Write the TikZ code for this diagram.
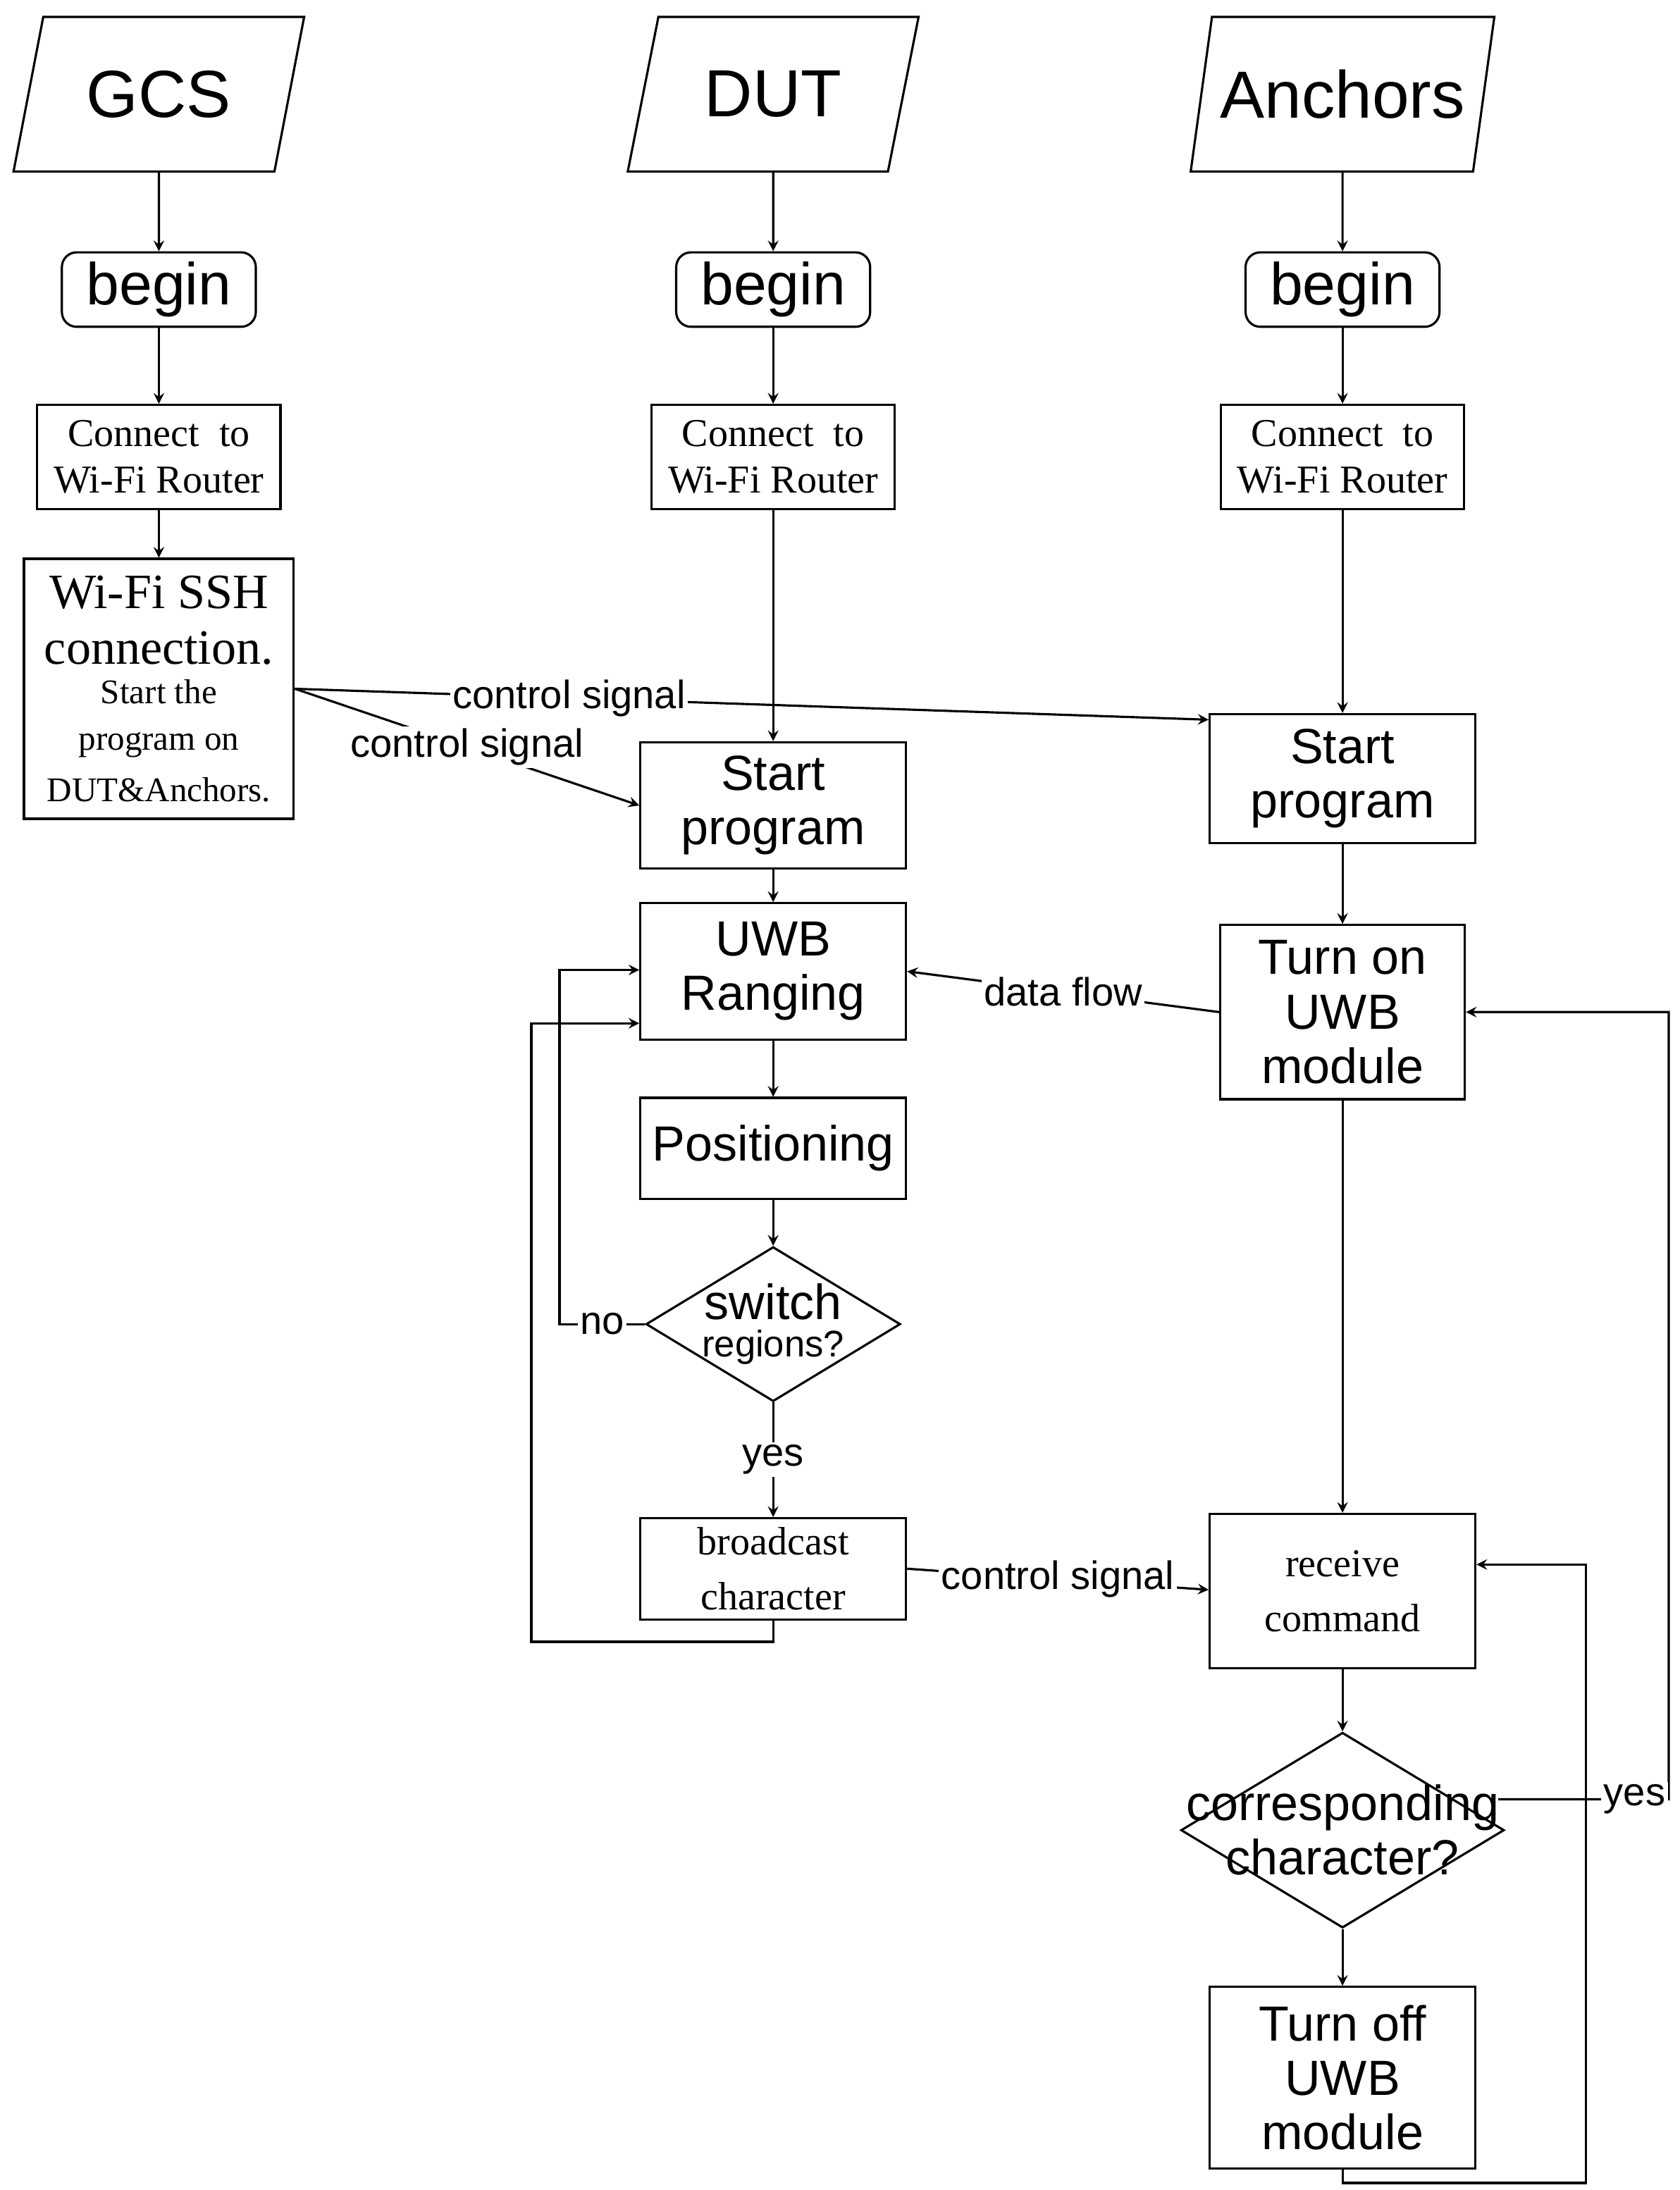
\documentclass[tikz,border=0pt]{standalone}
\usepackage{fontspec}
\setmainfont{Liberation Serif}
\newfontfamily\sansf{Liberation Sans}
\usetikzlibrary{shapes,arrows,positioning,calc}

\begin{document}
\begin{tikzpicture}[x=0.02cm, y=-0.02cm, >=stealth, line width=0.9pt,
  io/.style = {draw, trapezium, trapezium left angle=72, trapezium right angle=108, trapezium stretches=true, minimum width=4.14cm, minimum height=2.2cm, font=\sansf\fontsize{27}{30}\selectfont},
  start/.style = {draw, rounded corners=6pt, minimum width=2.76cm, minimum height=1.06cm, font=\sansf\fontsize{24}{26}\selectfont},
  wifi/.style = {draw, minimum width=3.46cm, minimum height=1.48cm, inner sep=1pt, align=center, font=\fontsize{16}{19}\selectfont},
  proc/.style = {draw, minimum width=3.78cm, align=center, inner sep=1pt, font=\sansf\fontsize{20}{22}\selectfont},
  serifproc/.style = {draw, minimum width=3.78cm, align=center, inner sep=1pt, font=\fontsize{16}{22}\selectfont},
  decide/.style = {draw, diamond, inner sep=0pt},
  lbl/.style = {fill=white, inner sep=1pt, font=\sansf\fontsize{16}{18}\selectfont}]
\useasboundingbox (0,0) rectangle (1195,1558);

% GCS column
\node[io] (gcs) at (113,67) {GCS};
\node[start] (gcsbegin) at (113,206) {begin};
\node[wifi] (gcswifi) at (113,325) {Connect\ \ to\\Wi-Fi Router};
\node[draw, minimum width=3.84cm, minimum height=3.7cm, align=center, inner sep=1pt] (ssh) at (113,490)
  {\fontsize{20}{24}\selectfont Wi-Fi SSH\\[8pt] \fontsize{20}{24}\selectfont connection.\\[4pt] \fontsize{14}{19}\selectfont Start the\\[7pt] \fontsize{14}{19}\selectfont program on\\[7pt] \fontsize{14}{19}\selectfont DUT\&Anchors.};

% DUT column
\node[io] (dut) at (550,67) {DUT};
\node[start] (dutbegin) at (550,206) {begin};
\node[wifi] (dutwifi) at (550,325) {Connect\ \ to\\Wi-Fi Router};
\node[proc, minimum height=1.8cm] (dutstart) at (550,573) {Start\\program};
\node[proc, minimum height=1.94cm] (ranging) at (550,691) {UWB\\Ranging};
\node[proc, minimum height=1.44cm] (pos) at (550,817) {Positioning};
\node[decide, minimum width=3.62cm, minimum height=2.2cm,
  label={[align=center, font=\sansf]center:{\fontsize{20}{22}\selectfont switch}\\[3pt]{\fontsize{15}{18}\selectfont regions?}}] (switch) at (550,942) {};
\node[serifproc, minimum height=1.44cm] (bcast) at (550,1116) {broadcast\\character};

% Anchors column
\node[io] (anc) at (955,67) {Anchors};
\node[start] (ancbegin) at (955,206) {begin};
\node[wifi] (ancwifi) at (955,325) {Connect\ \ to\\Wi-Fi Router};
\node[proc, minimum height=1.84cm] (ancstart) at (955,554) {Start\\program};
\node[proc, minimum width=3.48cm, minimum height=2.48cm] (turnon) at (955,720) {Turn on\\UWB\\module};
\node[serifproc, minimum height=2.2cm] (recv) at (955,1132) {receive\\command};
\node[decide, minimum width=4.6cm, minimum height=2.78cm,
  label={[align=center, font=\sansf\fontsize{20}{22}\selectfont]center:corresponding\\character?}] (corr) at (955,1302) {};
\node[proc, minimum height=2.58cm] (turnoff) at (955,1478) {Turn off\\UWB\\module};

% vertical flow
\draw[->] (gcs) -- (gcsbegin);
\draw[->] (gcsbegin) -- (gcswifi);
\draw[->] (gcswifi) -- (ssh);
\draw[->] (dut) -- (dutbegin);
\draw[->] (dutbegin) -- (dutwifi);
\draw[->] (dutwifi) -- (dutstart);
\draw[->] (dutstart) -- (ranging);
\draw[->] (ranging) -- (pos);
\draw[->] (pos) -- (switch);
\draw[->] (switch) -- node[lbl] {yes} (bcast);
\draw[->] (anc) -- (ancbegin);
\draw[->] (ancbegin) -- (ancwifi);
\draw[->] (ancwifi) -- (ancstart);
\draw[->] (ancstart) -- (turnon);
\draw[->] (turnon) -- (recv);
\draw[->] (recv) -- (corr);
\draw[->] (corr) -- (turnoff);

% signals between columns
\draw[->] (ssh.east) -- node[lbl, pos=0.3] {control signal} ([yshift=0.84cm]ancstart.west);
\draw[->] (ssh.east) -- node[lbl] {control signal} (dutstart.west);
\draw[->] (turnon.west) -- node[lbl] {data flow} (ranging.east);
\draw[->] (bcast.east) -- node[lbl] {control signal} ([yshift=0.02cm]recv.west);

% loops
\draw[->] (switch.west) -- node[lbl] {no} (398,942) |- ([yshift=0.02cm]ranging.west);
\draw[->] (bcast.south) -- (550,1168) -- (378,1168) |- ([yshift=-0.74cm]ranging.west);
\draw[->] ([xshift=-0.1cm,yshift=0.44cm]corr.east) -- node[lbl, pos=0.8] {yes} (1187,1280) |- (turnon.east);
\draw[->] (turnoff.south) -- (955,1553) -- (1128,1553) |- ([yshift=0.38cm]recv.east);
\end{tikzpicture}
\end{document}
